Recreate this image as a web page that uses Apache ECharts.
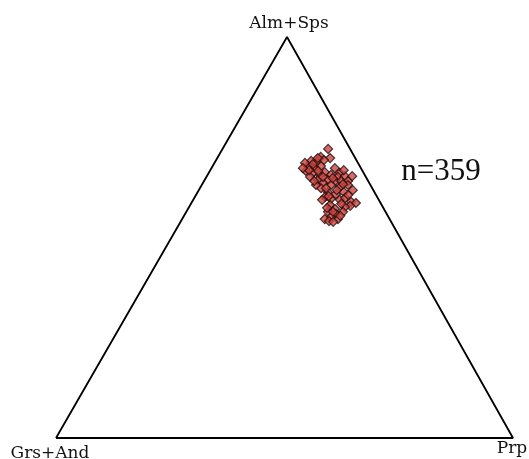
<!DOCTYPE html>
<html>
<head>
<meta charset="utf-8">
<script src="https://cdn.jsdelivr.net/npm/echarts@6/dist/echarts.min.js"></script>
<style>
html,body{margin:0;padding:0;background:#fff;}
#chart{width:529px;height:459px;}
</style>
</head>
<body>
<div id="chart"></div>
<script>
// Ternary end-members
var endMembers = ['Alm+Sps', 'Grs+And', 'Prp'];
var sampleCount = 'n=359';

// Garnet compositions (%)
var almSps = [72.1,70.1,69.8,69.3,69.1,68.6,67.8,67.3,67.8,66.6,66.1,65.6,66.3,67.3,66.1,65.6,65.1,65.3,64.3,64.1,64.1,64.1,64.3,63.6,65.1,63.1,62.6,63.1,61.8,61.3,60.8,61.3,60.1,59.6,59.4,58.9,58.6,57.9,57.6,58.1,57.1,56.4,55.9,56.4,55.1,54.6,54.6,54.1,59.9,62.3,63.1,68.6,69.8,66.8,65.3,59.4,53.9,68.3,66.8,66.6,65.1,64.1,64.8,63.3,61.8,60.6,60.3,58.4,56.4,55.4,57.4,62.3,67.3];
var grsAnd = [4.8,7.4,5.5,7.1,10.0,9.2,11.3,10.0,8.5,12.4,11.1,9.8,8.4,5.7,5.2,7.4,6.1,4.5,8.7,7.2,5.9,4.4,10.9,10.1,12.2,8.6,6.9,4.9,4.5,10.2,8.7,6.7,11.4,10.4,8.5,6.3,5.4,7.0,8.3,11.3,10.7,12.6,11.1,9.3,12.6,14.2,11.3,13.5,7.1,11.2,11.9,11.6,8.2,4.0,2.9,12.4,12.7,10.0,11.6,9.7,9.4,11.8,7.4,5.9,8.0,6.1,10.5,8.7,11.5,10.4,12.3,10.1,12.7];
var prp = [23.1,22.5,24.7,23.6,20.9,22.2,20.9,22.7,23.7,21.0,22.8,24.6,25.3,27.0,28.7,27.0,28.8,30.2,27.0,28.7,30.0,31.5,24.8,26.3,22.7,28.3,30.5,32.0,33.7,28.5,30.5,32.0,28.5,30.0,32.1,34.8,36.0,35.1,34.1,30.6,32.2,31.0,33.0,34.3,32.3,31.2,34.1,32.4,33.0,26.5,25.0,19.8,22.0,29.2,31.8,28.2,33.4,21.7,21.6,23.7,25.5,24.1,27.8,30.8,30.2,33.3,29.2,32.9,32.1,34.2,30.3,27.6,20.0];

// Triangle vertices as compositions [Alm+Sps, Grs+And, Prp]
var vertexComps = [[0,100,0],[0,0,100],[100,0,0],[0,100,0]];

// projection of a ternary composition into the plot plane
var APEX_X = 0.5055;
function project(a, g, p) {
  var s = a + g + p;
  return [p / s + (a / s) * APEX_X, a / s];
}

var points = [];
for (var i = 0; i < almSps.length; i++) {
  points.push(project(almSps[i], grsAnd[i], prp[i]));
}
var outline = vertexComps.map(function (c) { return project(c[0], c[1], c[2]); });

var chart = echarts.init(document.getElementById('chart'), null, {renderer: 'canvas'});
chart.setOption({
  animation: false,
  backgroundColor: '#ffffff',
  grid: {left: 56, right: 16, top: 37, bottom: 21},
  xAxis: {type: 'value', min: 0, max: 1, show: false},
  yAxis: {type: 'value', min: 0, max: 1, show: false},
  series: [
    {
      type: 'line',
      data: outline,
      symbol: 'none',
      lineStyle: {color: '#000', width: 1.8},
      silent: true,
      z: 1
    },
    {
      type: 'scatter',
      data: points,
      symbol: 'diamond',
      symbolSize: 9,
      itemStyle: {color: '#d0443f', borderColor: '#1e0d0d', borderWidth: 1.2},
      z: 2
    }
  ],
  graphic: [
    {type: 'text', x: 289, y: 24, style: {text: endMembers[0], font: '17px "DejaVu Serif"', fill: '#111', align: 'center', verticalAlign: 'middle'}},
    {type: 'text', x: 50, y: 454, style: {text: endMembers[1], font: '17px "DejaVu Serif"', fill: '#111', align: 'center', verticalAlign: 'middle'}},
    {type: 'text', x: 512, y: 449, style: {text: endMembers[2], font: '17px "DejaVu Serif"', fill: '#111', align: 'center', verticalAlign: 'middle'}},
    {type: 'text', x: 441, y: 172, style: {text: sampleCount, font: '31px "Liberation Serif"', fill: '#111', align: 'center', verticalAlign: 'middle'}}
  ]
});
</script>
</body>
</html>
